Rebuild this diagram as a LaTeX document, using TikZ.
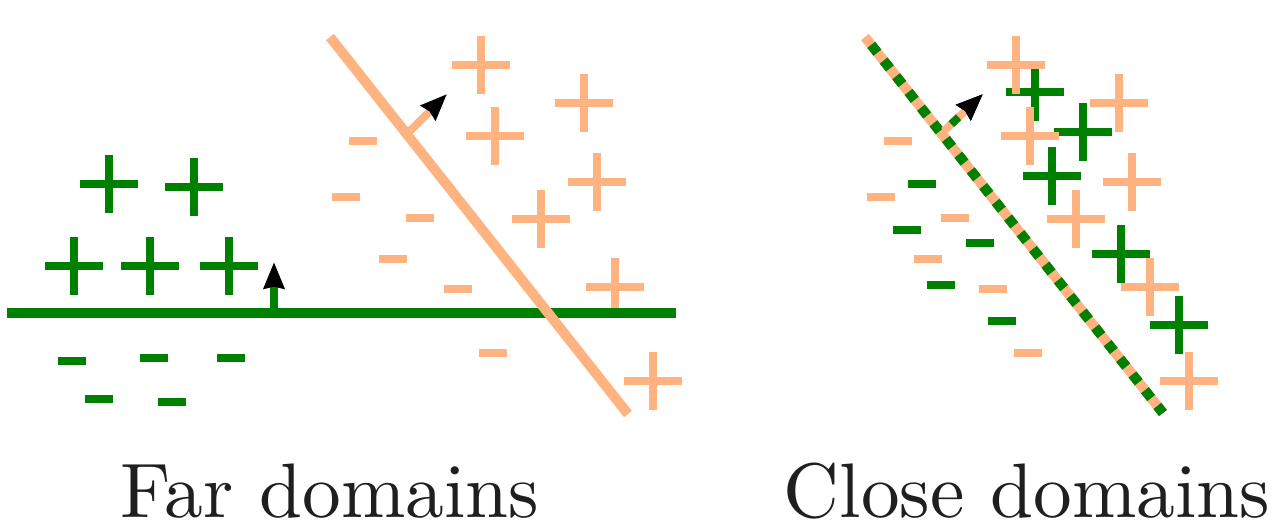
\documentclass[tikz,border=0pt]{standalone}
\usepackage{amsmath,amssymb}
\usepackage[]{xcolor}
\usepackage[]{tikz}
\usetikzlibrary{arrows.meta}

\definecolor{dgreen}{RGB}{0,128,0}
\definecolor{peach}{RGB}{255,179,128}

\tikzset{
  pplus/.pic={\draw[line width=4pt] (-29,0) -- (29,0) (0,-29) -- (0,29);},
  pminus/.pic={\draw[line width=5.1pt] (-14,0) -- (14,0);},
  sep/.style={line width=5.7pt},
  normal/.style={line width=4.5pt, -{Stealth[length=15pt, width=11.5pt, inset=1pt, color=black]}},
  dashes/.style={dash pattern=on 5.7pt off 5.7pt, dash phase=5.7pt},
  caption/.style={anchor=base, inner sep=0pt, scale=4.4, transform shape, text=black!88}
}

\begin{document}
\begin{tikzpicture}[x=0.02cm, y=-0.02cm]
        \useasboundingbox (0, 0) rectangle (1282, 522);

        % far domains
        \coordinate (gA) at (7, 313);
        \coordinate (gB) at (676, 313);
        \coordinate (oA) at (330, 37);
        \coordinate (oB) at (628, 414);
        \coordinate (gN) at (274, 313);
        \coordinate (gT) at (274, 262);
        \coordinate (oN) at (408, 133);
        \coordinate (oT) at (447, 94);

        \foreach \x/\y in {109/184, 194/187, 74/266, 150/266, 229/266}
          \pic[dgreen] at (\x, \y) {pplus};
        \foreach \x/\y in {72/361, 154/358, 231/358, 99/399, 172/402}
          \pic[dgreen] at (\x, \y) {pminus};
        \foreach \x/\y in {481/65, 584/103, 495/136, 597/182, 541/219, 615/287, 653/381}
          \pic[peach] at (\x, \y) {pplus};
        \foreach \x/\y in {363/141, 346/197, 420/218, 393/259, 458/289, 493/353}
          \pic[peach] at (\x, \y) {pminus};

        \draw[sep, dgreen] (gA) -- (gB);
        \draw[normal, dgreen] (gN) -- (gT);
        \draw[sep, peach] (oA) -- (oB);
        \draw[normal, peach] (oN) -- (oT);

        % close domains
        \coordinate (cA) at (865, 37);
        \coordinate (cB) at (1163, 413);
        \coordinate (cN) at (944, 131);
        \coordinate (cT) at (983, 94);

        \foreach \x/\y in {1035/92, 1083/132, 1052/176, 1121/254, 1179/325}
          \pic[dgreen] at (\x, \y) {pplus};
        \foreach \x/\y in {922/184, 907/230, 980/243, 941/285, 1002/321}
          \pic[dgreen] at (\x, \y) {pminus};
        \foreach \x/\y in {1016/65, 1119/103, 1030/136, 1132/182, 1076/219, 1150/287, 1189/381}
          \pic[peach] at (\x, \y) {pplus};
        \foreach \x/\y in {898/141, 881/197, 955/218, 928/259, 993/289, 1028/353}
          \pic[peach] at (\x, \y) {pminus};

        \draw[sep, peach] (cA) -- (cB);
        \draw[sep, dgreen, dashes] (cA) -- (cB);
        \draw[normal, peach] (cN) -- (cT);
        \draw[normal, dgreen, dashes] (cN) -- (cT);

        \node[caption] (far) at (330, 517) {Far domains};
        \node[caption] (close) at (1027, 517) {Close domains};
      \end{tikzpicture}
\end{document}
